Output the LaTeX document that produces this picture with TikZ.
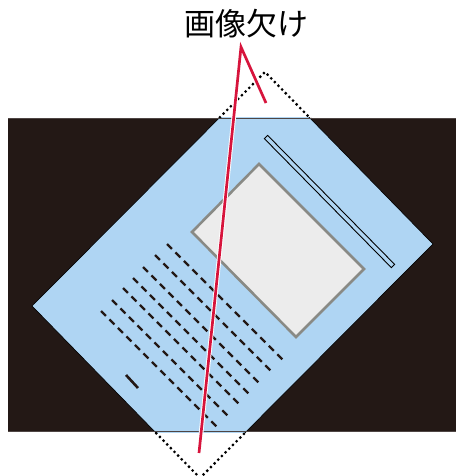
\documentclass[tikz,border=0pt]{standalone}
\usepackage{fontspec}
\newfontfamily\jpfont{Noto Sans CJK JP}
\usetikzlibrary{calc}
\definecolor{darkbg}{HTML}{231815}
\definecolor{paper}{HTML}{AFD5F3}
\definecolor{photo}{HTML}{ECECEC}
\definecolor{photoedge}{HTML}{898A85}
\definecolor{redline}{HTML}{D7143C}
\tikzset{
  dotline/.style={black, line width=2.2pt, dash pattern=on 2.2pt off 3pt},
  textline/.style={darkbg, line width=2.2pt, dash pattern=on 7pt off 5pt},
  label/.style={font=\jpfont\fontsize{31}{31}\selectfont, text=black, inner sep=0pt}
}
\begin{document}
\begin{tikzpicture}[x=1pt,y=-1pt]
\useasboundingbox (0,0) rectangle (456,476);
\coordinate (T) at (265,72);
\coordinate (R) at (433,244);
\coordinate (B) at (200,478);
\coordinate (L) at (32,306);
% dark background
\fill[darkbg] (8,118) rectangle (456,432);
% paper inside scanner area
\begin{scope}
  \clip (8,118) rectangle (456,432);
  \filldraw[fill=paper, draw=black, line width=0.7pt] (T)--(R)--(B)--(L)--cycle;
\end{scope}
\draw[darkbg!80!white, line width=1pt] (8,118.5) -- (456,118.5);
\draw[darkbg!80!white, line width=1pt] (8,431.5) -- (456,431.5);
% missing corners dotted
\begin{scope}
  \clip (0,0) rectangle (456,117.5);
  \draw[dotline] (L)--(T)--(R);
\end{scope}
\begin{scope}
  \clip (0,432.5) rectangle (456,476);
  \draw[dotline] (L)--(B)--(R);
\end{scope}
% photo
\filldraw[fill=photo, draw=photoedge, line width=2.6pt, line join=miter]
  (259,164)--(364,269)--(296,337)--(192,232)--cycle;
% slot
\coordinate (S1) at (266,137);
\coordinate (S2) at (393,266);
\filldraw[fill=paper, draw=black, line width=0.9pt]
  ($(S1)!2.3pt!90:(S2)$) -- ($(S2)!2.3pt!-90:(S1)$) -- ($(S2)!2.3pt!90:(S1)$) -- ($(S1)!2.3pt!-90:(S2)$) -- cycle;
% text lines
\foreach \x/\y in {167/244,155/255,143/267,133/278,123/288,112/300,101/311}
  \draw[textline] (\x,\y) -- ++(116,116);
\draw[darkbg, line width=2.6pt] (126,375) -- (138,388);
% red pointer
\coordinate (apex) at (241,47);
\coordinate (rb) at (199,453);
\coordinate (rt) at (266,103);
\draw[white, line width=4.6pt] (rb)--(apex)--(rt);
\draw[redline, line width=2.7pt] (rb)--(apex)--(rt);
% label
\node[label] (lbl) at (246,24) {画像欠け};
\end{tikzpicture}
\end{document}
